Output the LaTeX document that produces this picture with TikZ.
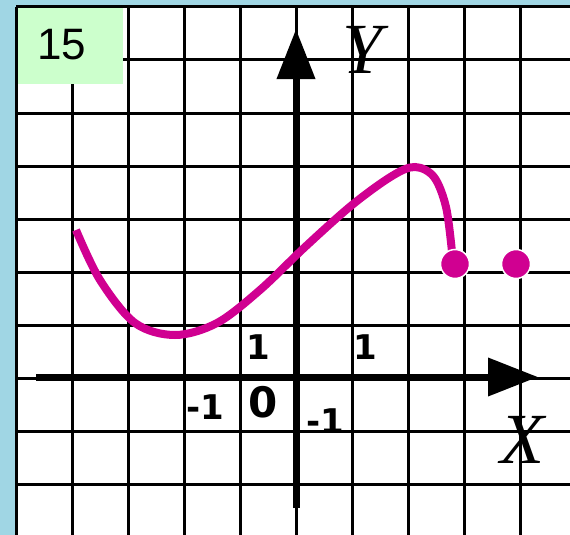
\documentclass[tikz,border=0pt]{standalone}
\usepackage{fontspec}
\setmainfont{Liberation Serif}
\newfontfamily\numfont{DejaVu Sans}
\newfontfamily\boxfont{Liberation Sans}
\usetikzlibrary{arrows.meta}
\definecolor{bgblue}{RGB}{160,214,228}
\definecolor{boxgreen}{RGB}{204,255,204}
\definecolor{graphpink}{RGB}{208,0,145}

\begin{document}
\begin{tikzpicture}[x=1pt,y=-1pt,
  gridline/.style={line width=3pt, black},
  axisline/.style={line width=7pt, black, -{Triangle[length=50pt,width=37pt]}},
  numlbl/.style={font=\numfont\bfseries\fontsize{34}{34}\selectfont, inner sep=0pt},
  axlbl/.style={font=\itshape\fontsize{72}{72}\selectfont, inner sep=0pt},
  dotmark/.style={fill=graphpink, draw=white, line width=1.5pt}]
\useasboundingbox (0,0) rectangle (570,535);
\fill[bgblue] (0,0) rectangle (570,535);
\fill[white] (16,7) rectangle (570,535);
\draw[gridline] (72,7) -- (72,535);
\draw[gridline] (128,7) -- (128,535);
\draw[gridline] (184,7) -- (184,535);
\draw[gridline] (240,7) -- (240,535);
\draw[gridline] (296,7) -- (296,535);
\draw[gridline] (352,7) -- (352,535);
\draw[gridline] (408,7) -- (408,535);
\draw[gridline] (464,7) -- (464,535);
\draw[gridline] (520,7) -- (520,535);
\draw[gridline] (16,60) -- (570,60);
\draw[gridline] (16,113) -- (570,113);
\draw[gridline] (16,166) -- (570,166);
\draw[gridline] (16,219) -- (570,219);
\draw[gridline] (16,272) -- (570,272);
\draw[gridline] (16,325) -- (570,325);
\draw[gridline] (16,378) -- (570,378);
\draw[gridline] (16,431) -- (570,431);
\draw[gridline] (16,484) -- (570,484);
\fill[boxgreen] (17.5,8.5) rectangle (123,84);
\draw[gridline] (16,7) -- (16,535);
\draw[gridline] (16,7) -- (570,7);
\node[font=\boxfont\fontsize{44}{44}\selectfont, inner sep=0pt] (num15) at (62,45) {15};
\coordinate (xstart) at (36,377);
\coordinate (xend) at (538,377);
\coordinate (ystart) at (296,508);
\coordinate (yend) at (296,29);
\draw[axisline] (xstart) -- (xend);
\draw[axisline] (ystart) -- (yend);
\draw[graphpink, line width=8pt] plot[smooth, tension=0.55] coordinates {(76,230) (100,280) (135,323) (175,335) (217,323) (260,290) (305,247) (352,205) (392,176) (415,167) (434,177) (446,207) (452,252)};
\draw[dotmark] (455,264) circle[radius=14.5pt];
\draw[dotmark] (516,264) circle[radius=14.5pt];
\node[numlbl] (oneY) at (258,347) {1};
\node[numlbl] (oneX) at (365,347) {1};
\node[numlbl] (minusX) at (205,407) {-1};
\node[numlbl, font=\numfont\bfseries\fontsize{42}{42}\selectfont] (origin) at (263,402) {0};
\node[numlbl] (minusY) at (325,421) {-1};
\node[axlbl] (lblY) at (363,50) {Y};
\node[axlbl] (lblX) at (522,440) {X};
\end{tikzpicture}
\end{document}
